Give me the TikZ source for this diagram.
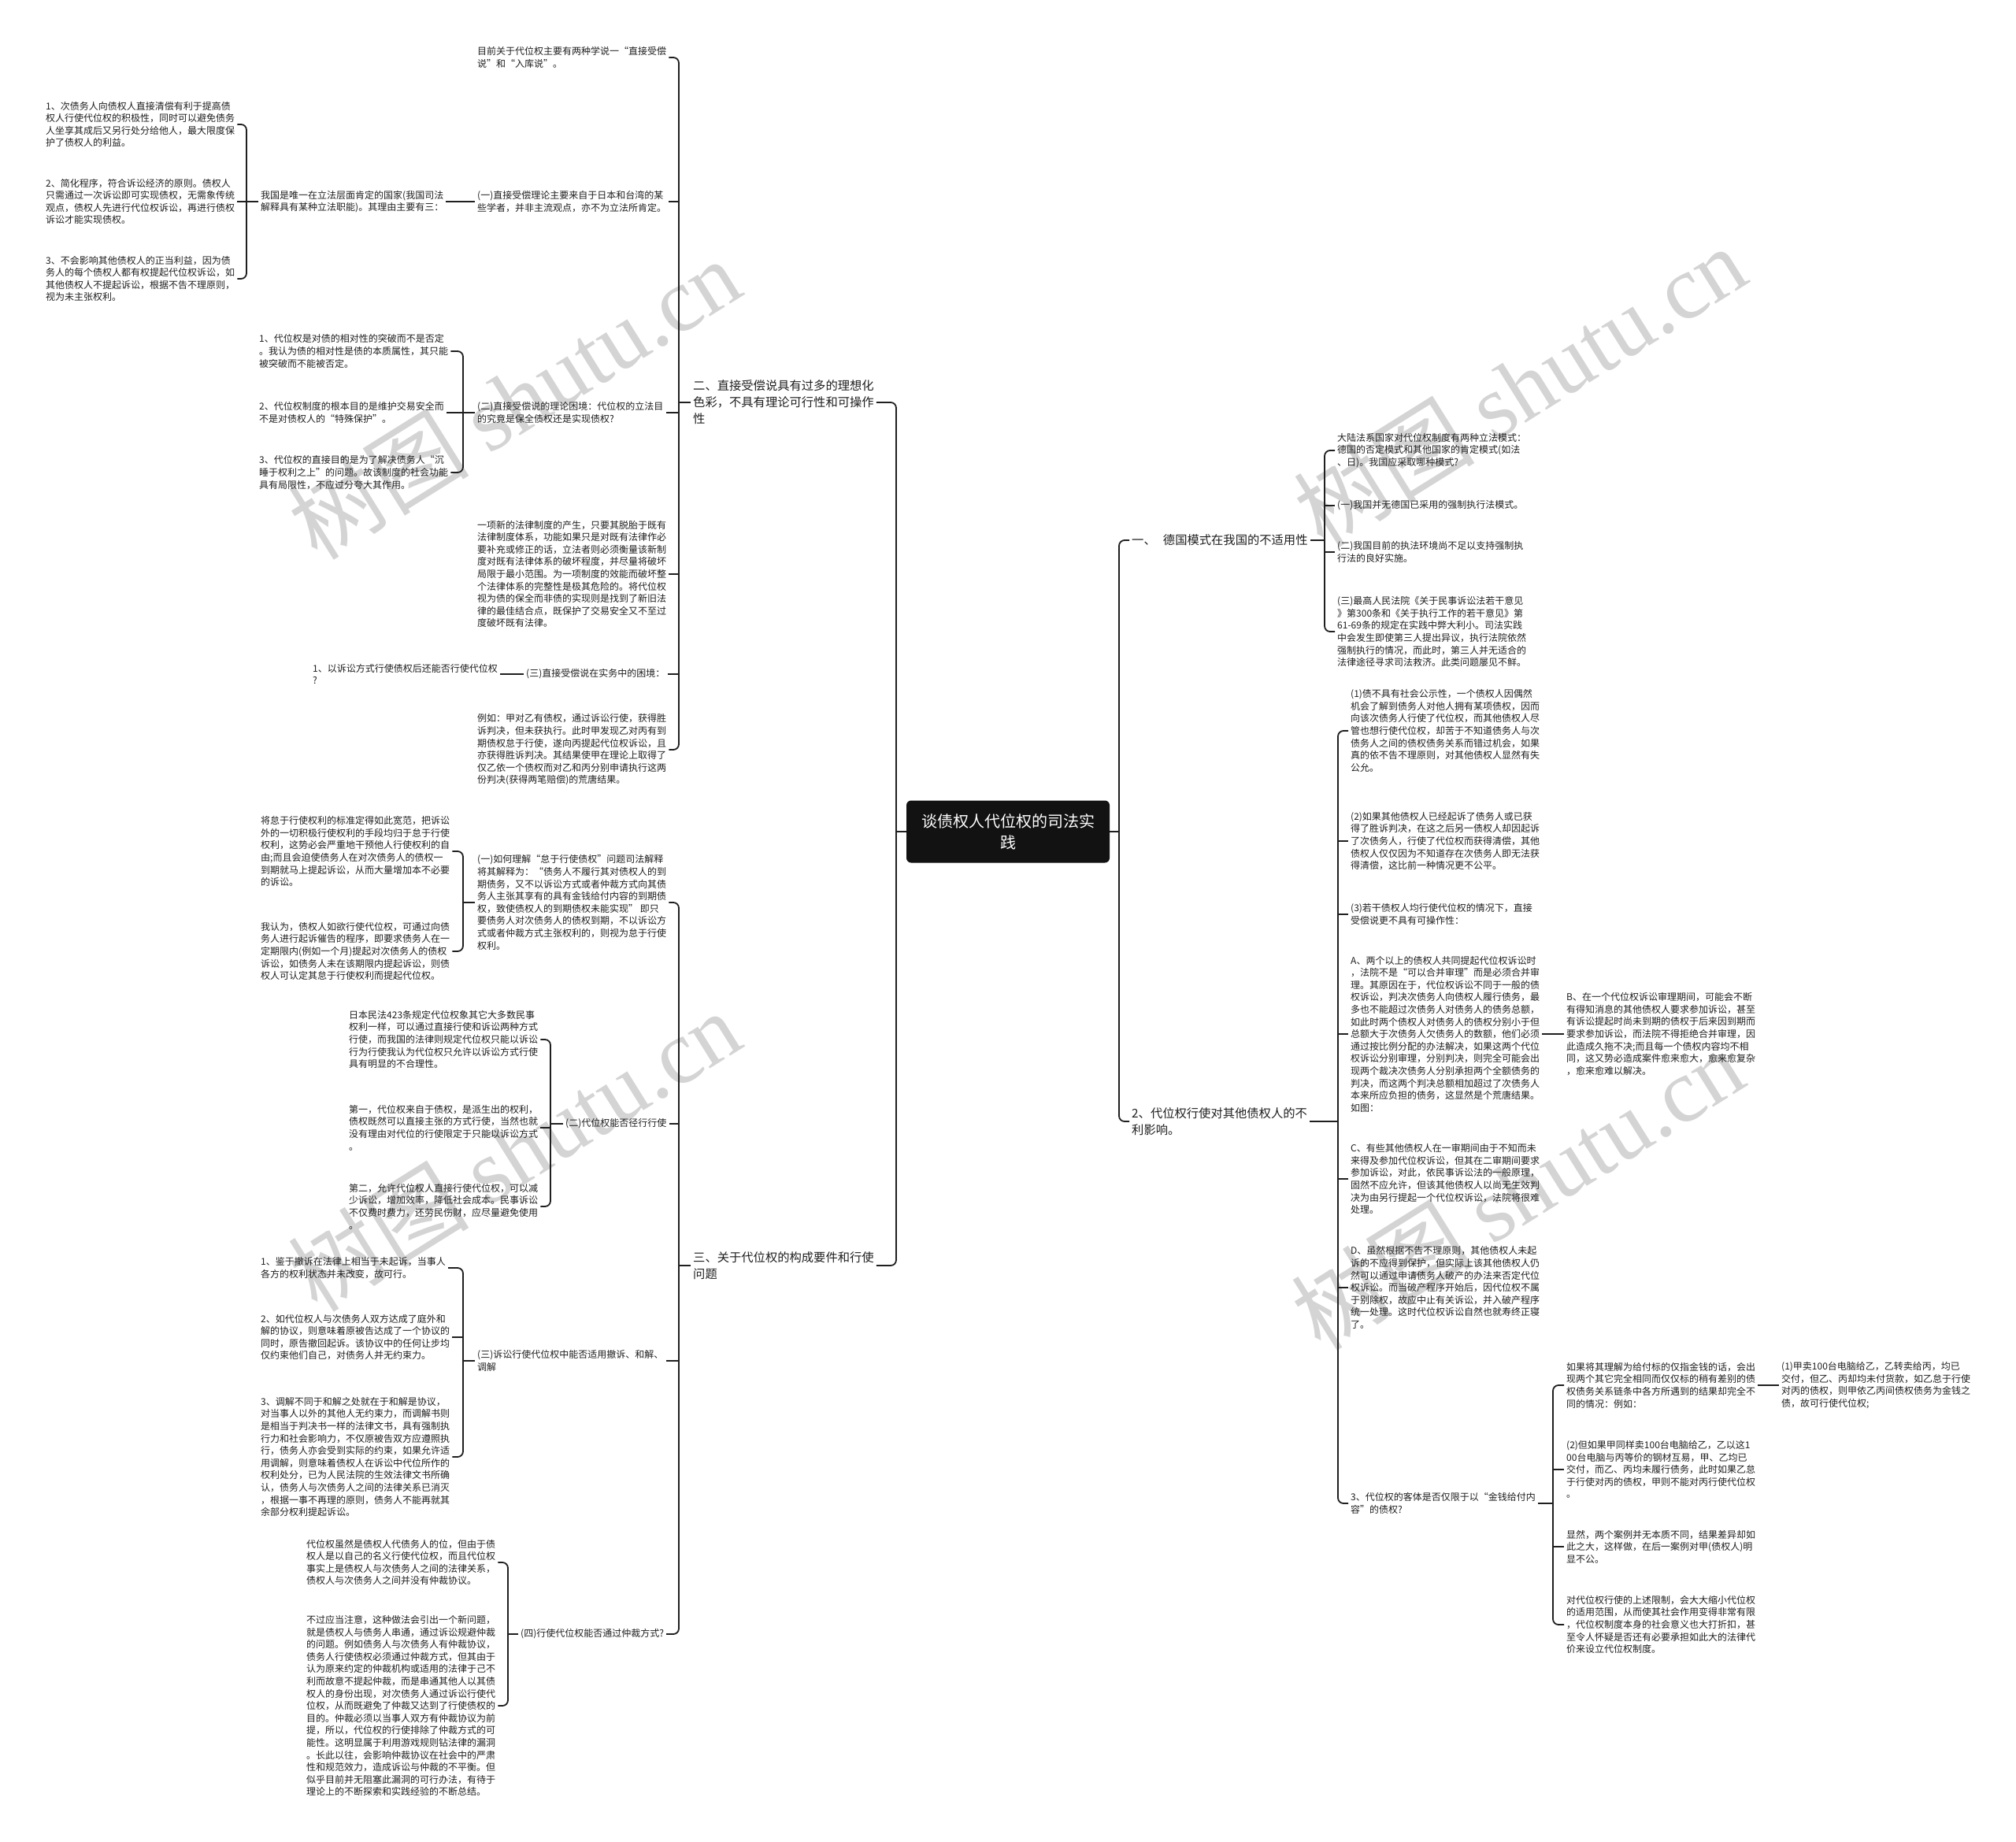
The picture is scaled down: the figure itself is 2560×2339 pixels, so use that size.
\documentclass[tikz,border=0pt]{standalone}
\usepackage{fontspec}
\setmainfont{Noto Sans CJK SC}
\newfontfamily\wmfont{Liberation Serif}
\begin{document}
\begin{tikzpicture}[x=1pt,y=-1pt,
  txt/.style={anchor=west, align=left, inner sep=3pt, font=\fontsize{12}{15.6}\selectfont, text=black!88},
  brn/.style={anchor=west, align=left, inner sep=3pt, font=\fontsize{15.3}{21}\selectfont, text=black!88},
  rootbox/.style={fill=black!93, text=white, rounded corners=6pt, minimum width=258pt, minimum height=79pt, align=center, inner sep=0pt, font=\fontsize{20}{27}\selectfont},
  ln/.style={line width=1.8pt, draw=black!88, rounded corners=7pt},
  wm/.style={text=black!17, font=\fontsize{115}{115}\selectfont, inner sep=0pt}]
\fill[white] (0,0) rectangle (2560,2339);
\useasboundingbox (0,0) rectangle (2560,2339);

% watermarks
\node[wm, rotate=32] (w1) at (653,506) {树图 {\wmfont shutu.cn}};
\node[wm, rotate=32] (w2) at (653,1461) {树图 {\wmfont shutu.cn}};
\node[wm, rotate=32] (w3) at (1930,490) {树图 {\wmfont shutu.cn}};
\node[wm, rotate=32] (w4) at (1927,1510) {树图 {\wmfont shutu.cn}};

% bracket columns
\coordinate (XL) at (1138,0);
\coordinate (XR) at (1421,0);
\coordinate (X2) at (862,0);
\coordinate (X3) at (862,0);
\coordinate (Xa) at (313,0);
\coordinate (Xb) at (588,0);
\coordinate (Xd) at (588,0);
\coordinate (Xe) at (699,0);
\coordinate (Xf) at (588,0);
\coordinate (Xg) at (645,0);
\coordinate (XA1) at (1682,0);
\coordinate (XA2) at (1699,0);
\coordinate (Xt) at (1972,0);

% root
\node[rootbox] (root) at (1280,1056) {谈债权人代位权的司法实\\践};

% ---------- left side ----------
\node[brn] (B2) at (877,511) {二、直接受偿说具有过多的理想化\\色彩，不具有理论可行性和可操作\\性};
\node[brn] (B3) at (877,1607) {三、关于代位权的构成要件和行使\\问题};

\node[txt] (n21) at (603,73) {目前关于代位权主要有两种学说一“直接受偿\\说”和“入库说”。};
\node[txt] (n22) at (603,256) {(一)直接受偿理论主要来自于日本和台湾的某\\些学者，并非主流观点，亦不为立法所肯定。};
\node[txt] (n221) at (328,256) {我国是唯一在立法层面肯定的国家(我国司法\\解释具有某种立法职能)。其理由主要有三：};
\node[txt] (a1) at (55,158) {1、次债务人向债权人直接清偿有利于提高债\\权人行使代位权的积极性，同时可以避免债务\\人坐享其成后又另行处分给他人，最大限度保\\护了债权人的利益。};
\node[txt] (a2) at (55,256) {2、简化程序，符合诉讼经济的原则。债权人\\只需通过一次诉讼即可实现债权，无需象传统\\观点，债权人先进行代位权诉讼，再进行债权\\诉讼才能实现债权。};
\node[txt] (a3) at (55,354) {3、不会影响其他债权人的正当利益，因为债\\务人的每个债权人都有权提起代位权诉讼，如\\其他债权人不提起诉讼，根据不告不理原则，\\视为未主张权利。};

\node[txt] (n23) at (603,524) {(二)直接受偿说的理论困境：代位权的立法目\\的究竟是保全债权还是实现债权?};
\node[txt] (b1) at (326,446) {1、代位权是对债的相对性的突破而不是否定\\。我认为债的相对性是债的本质属性，其只能\\被突破而不能被否定。};
\node[txt] (b2) at (326,524) {2、代位权制度的根本目的是维护交易安全而\\不是对债权人的“特殊保护”。};
\node[txt] (b3) at (326,600) {3、代位权的直接目的是为了解决债务人“沉\\睡于权利之上”的问题。故该制度的社会功能\\具有局限性，不应过分夸大其作用。};

\node[txt] (n24) at (603,729) {一项新的法律制度的产生，只要其脱胎于既有\\法律制度体系，功能如果只是对既有法律作必\\要补充或修正的话，立法者则必须衡量该新制\\度对既有法律体系的破坏程度，并尽量将破坏\\局限于最小范围。为一项制度的效能而破坏整\\个法律体系的完整性是极其危险的。将代位权\\视为债的保全而非债的实现则是找到了新旧法\\律的最佳结合点，既保护了交易安全又不至过\\度破坏既有法律。};
\node[txt] (n25) at (665,856) {(三)直接受偿说在实务中的困境：};
\node[txt] (c1) at (394,856) {1、以诉讼方式行使债权后还能否行使代位权\\?};
\node[txt] (n26) at (603,952) {例如：甲对乙有债权，通过诉讼行使，获得胜\\诉判决，但未获执行。此时甲发现乙对丙有到\\期债权怠于行使，遂向丙提起代位权诉讼，且\\亦获得胜诉判决。其结果使甲在理论上取得了\\仅乙依一个债权而对乙和丙分别申请执行这两\\份判决(获得两笔赔偿)的荒唐结果。};

\node[txt] (n31) at (603,1146) {(一)如何理解“怠于行使债权”问题司法解释\\将其解释为：“债务人不履行其对债权人的到\\期债务，又不以诉讼方式或者仲裁方式向其债\\务人主张其享有的具有金钱给付内容的到期债\\权，致使债权人的到期债权未能实现” 即只\\要债务人对次债务人的债权到期，不以诉讼方\\式或者仲裁方式主张权利的，则视为怠于行使\\权利。};
\node[txt] (d1) at (328,1081) {将怠于行使权利的标准定得如此宽范，把诉讼\\外的一切积极行使权利的手段均归于怠于行使\\权利，这势必会严重地干预他人行使权利的自\\由;而且会迫使债务人在对次债务人的债权一\\到期就马上提起诉讼，从而大量增加本不必要\\的诉讼。};
\node[txt] (d2) at (328,1208) {我认为，债权人如欲行使代位权，可通过向债\\务人进行起诉催告的程序，即要求债务人在一\\定期限内(例如一个月)提起对次债务人的债权\\诉讼，如债务人未在该期限内提起诉讼，则债\\权人可认定其怠于行使权利而提起代位权。};

\node[txt] (n32) at (715,1427) {(二)代位权能否径行行使};
\node[txt] (e1) at (440,1320) {日本民法423条规定代位权象其它大多数民事\\权利一样，可以通过直接行使和诉讼两种方式\\行使，而我国的法律则规定代位权只能以诉讼\\行为行使我认为代位权只允许以诉讼方式行使\\具有明显的不合理性。};
\node[txt] (e2) at (440,1432) {第一，代位权来自于债权，是派生出的权利，\\债权既然可以直接主张的方式行使，当然也就\\没有理由对代位的行使限定于只能以诉讼方式\\。};
\node[txt] (e3) at (440,1532) {第二，允许代位权人直接行使代位权，可以减\\少诉讼，增加效率，降低社会成本。民事诉讼\\不仅费时费力，还劳民伤财，应尽量避免使用\\。};

\node[txt] (n33) at (603,1728) {(三)诉讼行使代位权中能否适用撤诉、和解、\\调解};
\node[txt] (f1) at (328,1610) {1、鉴于撤诉在法律上相当于未起诉，当事人\\各方的权利状态并未改变，故可行。};
\node[txt] (f2) at (328,1698) {2、如代位权人与次债务人双方达成了庭外和\\解的协议，则意味着原被告达成了一个协议的\\同时，原告撤回起诉。该协议中的任何让步均\\仅约束他们自己，对债务人并无约束力。};
\node[txt] (f3) at (328,1850) {3、调解不同于和解之处就在于和解是协议，\\对当事人以外的其他人无约束力，而调解书则\\是相当于判决书一样的法律文书，具有强制执\\行力和社会影响力，不仅原被告双方应遵照执\\行，债务人亦会受到实际的约束，如果允许适\\用调解，则意味着债权人在诉讼中代位所作的\\权利处分，已为人民法院的生效法律文书所确\\认，债务人与次债务人之间的法律关系已消灭\\，根据一事不再理的原则，债务人不能再就其\\余部分权利提起诉讼。};

\node[txt] (n34) at (658,2075) {(四)行使代位权能否通过仲裁方式?};
\node[txt] (g1) at (386,1984) {代位权虽然是债权人代债务人的位，但由于债\\权人是以自己的名义行使代位权，而且代位权\\事实上是债权人与次债务人之间的法律关系，\\债权人与次债务人之间并没有仲裁协议。};
\node[txt] (g2) at (386,2166) {不过应当注意，这种做法会引出一个新问题，\\就是债权人与债务人串通，通过诉讼规避仲裁\\的问题。例如债务人与次债务人有仲裁协议，\\债务人行使债权必须通过仲裁方式，但其由于\\认为原来约定的仲裁机构或适用的法律于己不\\利而故意不提起仲裁，而是串通其他人以其债\\权人的身份出现，对次债务人通过诉讼行使代\\位权，从而既避免了仲裁又达到了行使债权的\\目的。仲裁必须以当事人双方有仲裁协议为前\\提，所以，代位权的行使排除了仲裁方式的可\\能性。这明显属于利用游戏规则钻法律的漏洞\\。长此以往，会影响仲裁协议在社会中的严肃\\性和规范效力，造成诉讼与仲裁的不平衡。但\\似乎目前并无阻塞此漏洞的可行办法，有待于\\理论上的不断探索和实践经验的不断总结。};

% ---------- right side ----------
\node[brn] (A1) at (1434,686) {一、\hspace{0.6em}德国模式在我国的不适用性};
\node[brn] (A2) at (1434,1424) {2、代位权行使对其他债权人的不\\利影响。};

\node[txt] (r1) at (1695,572) {大陆法系国家对代位权制度有两种立法模式：\\德国的否定模式和其他国家的肯定模式(如法\\、日)。我国应采取哪种模式?};
\node[txt] (r2) at (1695,642) {(一)我国并无德国已采用的强制执行法模式。};
\node[txt] (r3) at (1695,701) {(二)我国目前的执法环境尚不足以支持强制执\\行法的良好实施。};
\node[txt] (r4) at (1695,802) {(三)最高人民法院《关于民事诉讼法若干意见\\》第300条和《关于执行工作的若干意见》第\\61-69条的规定在实践中弊大利小。司法实践\\中会发生即使第三人提出异议，执行法院依然\\强制执行的情况，而此时，第三人并无适合的\\法律途径寻求司法救济。此类问题屡见不鲜。};

\node[txt] (s1) at (1712,928) {(1)债不具有社会公示性，一个债权人因偶然\\机会了解到债务人对他人拥有某项债权，因而\\向该次债务人行使了代位权，而其他债权人尽\\管也想行使代位权，却苦于不知道债务人与次\\债务人之间的债权债务关系而错过机会，如果\\真的依不告不理原则，对其他债权人显然有失\\公允。};
\node[txt] (s2) at (1712,1068) {(2)如果其他债权人已经起诉了债务人或已获\\得了胜诉判决，在这之后另一债权人却因起诉\\了次债务人，行使了代位权而获得清偿，其他\\债权人仅仅因为不知道存在次债务人即无法获\\得清偿，这比前一种情况更不公平。};
\node[txt] (s3) at (1712,1161) {(3)若干债权人均行使代位权的情况下，直接\\受偿说更不具有可操作性：};
\node[txt] (s4) at (1712,1313) {A、两个以上的债权人共同提起代位权诉讼时\\，法院不是“可以合并审理”而是必须合并审\\理。其原因在于，代位权诉讼不同于一般的债\\权诉讼，判决次债务人向债权人履行债务，最\\多也不能超过次债务人对债务人的债务总额，\\如此时两个债权人对债务人的债权分别小于但\\总额大于次债务人欠债务人的数额，他们必须\\通过按比例分配的办法解决，如果这两个代位\\权诉讼分别审理，分别判决，则完全可能会出\\现两个裁决次债务人分别承担两个全额债务的\\判决，而这两个判决总额相加超过了次债务人\\本来所应负担的债务，这显然是个荒唐结果。\\如图：};
\node[txt] (Bn) at (1986,1313) {B、在一个代位权诉讼审理期间，可能会不断\\有得知消息的其他债权人要求参加诉讼，甚至\\有诉讼提起时尚未到期的债权于后来因到期而\\要求参加诉讼，而法院不得拒绝合并审理，因\\此造成久拖不决;而且每一个债权内容均不相\\同，这又势必造成案件愈来愈大，愈来愈复杂\\，愈来愈难以解决。};
\node[txt] (s5) at (1712,1497) {C、有些其他债权人在一审期间由于不知而未\\来得及参加代位权诉讼，但其在二审期间要求\\参加诉讼，对此，依民事诉讼法的一般原理，\\固然不应允许，但该其他债权人以尚无生效判\\决为由另行提起一个代位权诉讼，法院将很难\\处理。};
\node[txt] (s6) at (1712,1635) {D、虽然根据不告不理原则，其他债权人未起\\诉的不应得到保护，但实际上该其他债权人仍\\然可以通过申请债务人破产的办法来否定代位\\权诉讼。而当破产程序开始后，因代位权不属\\于别除权，故应中止有关诉讼，并入破产程序\\统一处理。这时代位权诉讼自然也就寿终正寝\\了。};
\node[txt] (s7) at (1712,1909) {3、代位权的客体是否仅限于以“金钱给付内\\容”的债权?};

\node[txt] (t1) at (1986,1759) {如果将其理解为给付标的仅指金钱的话，会出\\现两个其它完全相同而仅仅标的稍有差别的债\\权债务关系链条中各方所遇到的结果却完全不\\同的情况：例如：};
\node[txt] (t11) at (2259,1759) {(1)甲卖100台电脑给乙，乙转卖给丙，均已\\交付，但乙、丙却均未付货款，如乙怠于行使\\对丙的债权，则甲依乙丙间债权债务为金钱之\\债，故可行使代位权;};
\node[txt] (t2) at (1986,1866) {(2)但如果甲同样卖100台电脑给乙，乙以这1\\00台电脑与丙等价的钢材互易，甲、乙均已\\交付，而乙、丙均未履行债务，此时如果乙怠\\于行使对丙的债权，甲则不能对丙行使代位权\\。};
\node[txt] (t3) at (1986,1964) {显然，两个案例并无本质不同，结果差异却如\\此之大，这样做，在后一案例对甲(债权人)明\\显不公。};
\node[txt] (t4) at (1986,2063) {对代位权行使的上述限制，会大大缩小代位权\\的适用范围，从而使其社会作用变得非常有限\\，代位权制度本身的社会意义也大打折扣，甚\\至令人怀疑是否还有必要承担如此大的法律代\\价来设立代位权制度。};

% ---------- connectors: left ----------
\draw[ln] (root.west) -- (root.west -| XL);
\draw[ln] (B2.east) -- (B2.east -| XL) -- (B3.east -| XL) -- (B3.east);

\draw[ln] (B2.west) -- (B2.west -| X2);
\draw[ln] (n21.east) -- (n21.east -| X2) -- (n26.east -| X2) -- (n26.east);
\draw[ln] (n22.east -| X2) -- (n22.east);
\draw[ln] (n23.east -| X2) -- (n23.east);
\draw[ln] (n24.east -| X2) -- (n24.east);
\draw[ln] (n25.east -| X2) -- (n25.east);

\draw[ln] (n22.west) -- (n221.east);
\draw[ln] (n221.west) -- (n221.west -| Xa);
\draw[ln] (a1.east) -- (a1.east -| Xa) -- (a3.east -| Xa) -- (a3.east);
\draw[ln] (a2.east -| Xa) -- (a2.east);

\draw[ln] (n23.west) -- (n23.west -| Xb);
\draw[ln] (b1.east) -- (b1.east -| Xb) -- (b3.east -| Xb) -- (b3.east);
\draw[ln] (b2.east -| Xb) -- (b2.east);

\draw[ln] (n25.west) -- (c1.east);

\draw[ln] (B3.west) -- (B3.west -| X3);
\draw[ln] (n31.east) -- (n31.east -| X3) -- (n34.east -| X3) -- (n34.east);
\draw[ln] (n32.east -| X3) -- (n32.east);
\draw[ln] (n33.east -| X3) -- (n33.east);

\draw[ln] (n31.west) -- (n31.west -| Xd);
\draw[ln] (d1.east) -- (d1.east -| Xd) -- (d2.east -| Xd) -- (d2.east);

\draw[ln] (n32.west) -- (n32.west -| Xe);
\draw[ln] (e1.east) -- (e1.east -| Xe) -- (e3.east -| Xe) -- (e3.east);
\draw[ln] (e2.east -| Xe) -- (e2.east);

\draw[ln] (n33.west) -- (n33.west -| Xf);
\draw[ln] (f1.east) -- (f1.east -| Xf) -- (f3.east -| Xf) -- (f3.east);
\draw[ln] (f2.east -| Xf) -- (f2.east);

\draw[ln] (n34.west) -- (n34.west -| Xg);
\draw[ln] (g1.east) -- (g1.east -| Xg) -- (g2.east -| Xg) -- (g2.east);

% ---------- connectors: right ----------
\draw[ln] (root.east) -- (root.east -| XR);
\draw[ln] (A1.west) -- (A1.west -| XR) -- (A2.west -| XR) -- (A2.west);

\draw[ln] (A1.east) -- (A1.east -| XA1);
\draw[ln] (r1.west) -- (r1.west -| XA1) -- (r4.west -| XA1) -- (r4.west);
\draw[ln] (r2.west -| XA1) -- (r2.west);
\draw[ln] (r3.west -| XA1) -- (r3.west);

\draw[ln] (A2.east) -- (A2.east -| XA2);
\draw[ln] (s1.west) -- (s1.west -| XA2) -- (s7.west -| XA2) -- (s7.west);
\draw[ln] (s2.west -| XA2) -- (s2.west);
\draw[ln] (s3.west -| XA2) -- (s3.west);
\draw[ln] (s4.west -| XA2) -- (s4.west);
\draw[ln] (s5.west -| XA2) -- (s5.west);
\draw[ln] (s6.west -| XA2) -- (s6.west);

\draw[ln] (s4.east) -- (Bn.west);

\draw[ln] (s7.east) -- (s7.east -| Xt);
\draw[ln] (t1.west) -- (t1.west -| Xt) -- (t4.west -| Xt) -- (t4.west);
\draw[ln] (t2.west -| Xt) -- (t2.west);
\draw[ln] (t3.west -| Xt) -- (t3.west);

\draw[ln] (t1.east) -- (t11.west);
\end{tikzpicture}
\end{document}
